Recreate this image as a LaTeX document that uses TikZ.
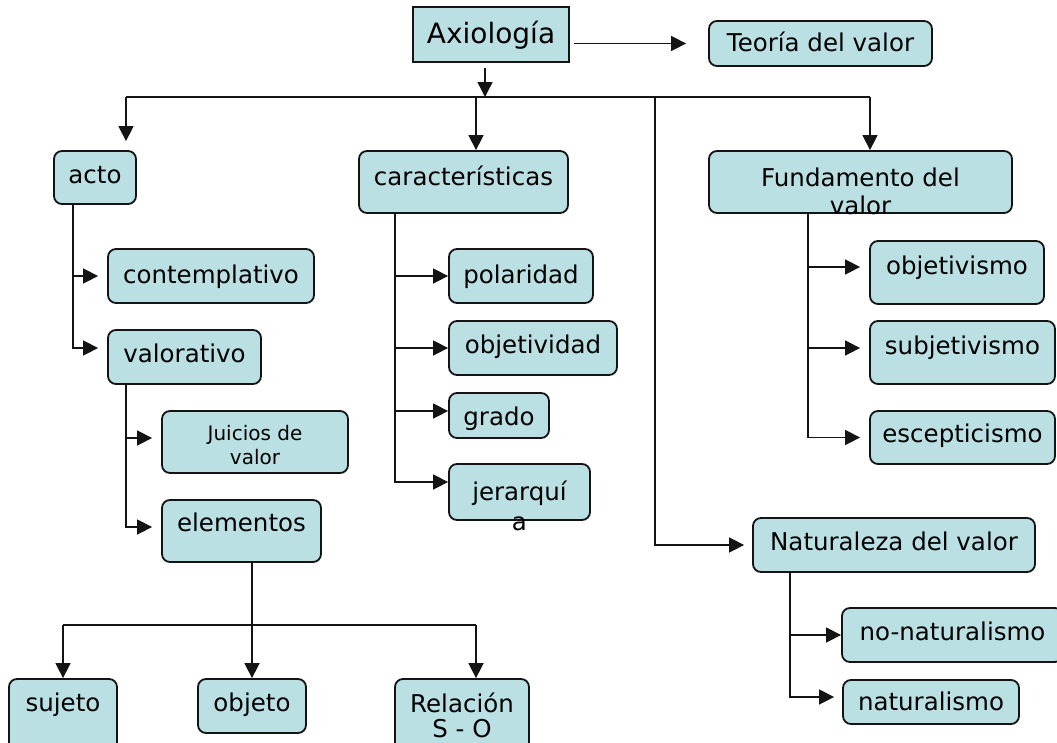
\documentclass[tikz,border=0pt]{standalone}
\usepackage{fontspec}
\setmainfont{DejaVu Sans}
\usetikzlibrary{arrows.meta}
\definecolor{boxfill}{RGB}{187,224,227}
\definecolor{ink}{RGB}{20,20,20}
\newcommand\mkbox[6][box]{\node[#1, minimum width={(#5)-(#3)}, minimum height={(#6)-(#4)}] (#2) at ({((#3)+(#5))/2},{((#4)+(#6))/2}) {};}
\begin{document}
\begin{tikzpicture}[x=1pt,y=-1pt,
  box/.style={draw=ink, line width=1.8pt, fill=boxfill, rounded corners=8pt, inner sep=0pt},
  sqbox/.style={draw=ink, line width=1.8pt, fill=boxfill, inner sep=0pt},
  lbl/.style={inner sep=0pt, yshift=-2.5pt, font=\fontsize{24.5}{29}\selectfont, text height=18.6pt, text depth=5.9pt, text=black},
  biglbl/.style={inner sep=0pt, yshift=-2.5pt, font=\fontsize{28}{33}\selectfont, text height=21.3pt, text depth=6.7pt, text=black},
  mlbl/.style={inner sep=0pt, yshift=-2.5pt, align=center, anchor=north, text=black},
  conn/.style={draw=ink, line width=1.5pt},
  arr/.style={conn, -{Triangle[length=15pt,width=15pt]}},
]
\useasboundingbox (0,0) rectangle (1057,742);
\fill[white] (0,0) rectangle (1057,742);
\clip (0,0) rectangle (1057,742);

% boxes
\mkbox[sqbox]{axio}{413}{7}{569}{62}
\mkbox{teoria}{709}{21}{932}{66}
\mkbox{acto}{54}{151}{136}{204}
\mkbox{caract}{359}{151}{568}{213}
\mkbox{fund}{709}{151}{1012}{213}
\mkbox{contemp}{108}{249}{314}{303}
\mkbox{valor}{108}{330}{261}{384}
\mkbox{juicios}{162}{411}{348}{473}
\mkbox{elem}{162}{500}{321}{562}
\mkbox{sujeto}{9}{679}{117}{752}
\mkbox{objeto}{198}{679}{306}{733}
\mkbox{relac}{395}{679}{529}{752}
\mkbox{polar}{449}{249}{593}{303}
\mkbox{objetiv}{449}{321}{617}{375}
\mkbox{grado}{449}{393}{549}{438}
\mkbox{jerar}{449}{464}{590}{520}
\mkbox{objetivismo}{870}{241}{1044}{304}
\mkbox{subj}{870}{321}{1055}{384}
\mkbox{escep}{870}{411}{1055}{464}
\mkbox{natur}{753}{518}{1035}{572}
\mkbox{nonat}{842}{608}{1063}{662}
\mkbox{nat}{843}{680}{1019}{724}

% texts
\node[biglbl] (axio-t) at (491,34) {Axiología};
\node[lbl] (teoria-t) at (820.5,43) {Teoría del valor};
\node[lbl] (acto-t) at (95,175) {acto};
\node[lbl] (caract-t) at (463.5,177) {características};
\node[mlbl, font=\fontsize{24.5}{28}\selectfont] (fund-t) at (860.5,164.75) {Fundamento del\\valor};
\node[lbl] (contemp-t) at (211,275) {contemplativo};
\node[lbl] (valor-t) at (184.5,354) {valorativo};
\node[mlbl, font=\fontsize{20}{24}\selectfont] (juicios-t) at (255,423) {Juicios de\\valor};
\node[lbl] (elem-t) at (241.5,523) {elementos};
\node[lbl] (sujeto-t) at (63,703) {sujeto};
\node[lbl] (objeto-t) at (252,703) {objeto};
\node[mlbl, font=\fontsize{24.5}{25}\selectfont] (relac-t) at (462,690) {Relación\\S - O};
\node[lbl] (polar-t) at (521,275) {polaridad};
\node[lbl] (objetiv-t) at (533,345) {objetividad};
\node[lbl] (grado-t) at (499,417) {grado};
\node[mlbl, font=\fontsize{24.5}{30}\selectfont] (jerar-t) at (519.5,477.75) {jerarquí\\a};
\node[lbl] (objetivismo-t) at (957,266) {objetivismo};
\node[lbl] (subj-t) at (962.5,346) {subjetivismo};
\node[lbl] (escep-t) at (962.5,434) {escepticismo};
\node[lbl] (natur-t) at (894,542) {Naturaleza del valor};
\node[lbl] (nonat-t) at (952.5,632) {no-naturalismo};
\node[lbl] (nat-t) at (931,702) {naturalismo};

% connectors: top
\coordinate (busA) at (485,97);
\coordinate (busL) at (126,97);
\coordinate (busR) at (870,97);
\coordinate (busC) at (476,97);
\coordinate (busN) at (655,97);
\draw[arr, shorten <=4pt, shorten >=22pt] (axio.east |- teoria.west) -- (teoria.west);
\draw[arr, shorten <=5pt] (axio.south -| busA) -- (busA);
\draw[conn] (busL) -- (busR);
\draw[arr, shorten >=9pt] (busL) -- (busL |- acto.north);
\draw[arr] (busC) -- (busC |- caract.north);
\draw[arr] (busR) -- (busR |- fund.north);
\draw[arr, shorten >=8pt] (busN) |- (natur.west);

% acto
\draw[arr, shorten >=9pt] ([xshift=-22pt]acto.south) |- (contemp.west);
\draw[arr, shorten >=9pt] ([xshift=-22pt]acto.south) |- ([yshift=9pt]valor.west);
% valorativo
\draw[arr, shorten >=9pt] ([xshift=-58.5pt]valor.south) |- ([yshift=4pt]juicios.west);
\draw[arr, shorten >=9pt] ([xshift=-58.5pt]valor.south) |- ([yshift=4pt]elem.west);
% caracteristicas
\draw[arr] ([xshift=-68.5pt]caract.south) |- (polar.west);
\draw[arr] ([xshift=-68.5pt]caract.south) |- (objetiv.west);
\draw[arr] ([xshift=-68.5pt]caract.south) |- ([yshift=4.5pt]grado.west);
\draw[arr] ([xshift=-68.5pt]caract.south) |- ([yshift=10pt]jerar.west);
% fundamento
\draw[arr, shorten >=9pt] ([xshift=-52.5pt]fund.south) |- ([yshift=5.5pt]objetivismo.west);
\draw[arr, shorten >=9pt] ([xshift=-52.5pt]fund.south) |- ([yshift=4.5pt]subj.west);
\draw[arr, shorten >=9pt] ([xshift=-52.5pt]fund.south) |- (escep.west);
% naturaleza
\draw[arr] ([xshift=-104pt]natur.south) |- (nonat.west);
\draw[arr, shorten >=8pt] ([xshift=-104pt]natur.south) |- ([yshift=5pt]nat.west);
% elementos
\coordinate (ebus) at (252,625);
\coordinate (ebusL) at (63,625);
\coordinate (ebusR) at (476,625);
\draw[conn] ([xshift=10.5pt]elem.south) -- (ebus);
\draw[conn] (ebusL) -- (ebusR);
\draw[arr] (ebusL) -- (ebusL |- sujeto.north);
\draw[arr] (ebus) -- (ebus |- objeto.north);
\draw[arr] (ebusR) -- (ebusR |- relac.north);
\end{tikzpicture}
\end{document}
